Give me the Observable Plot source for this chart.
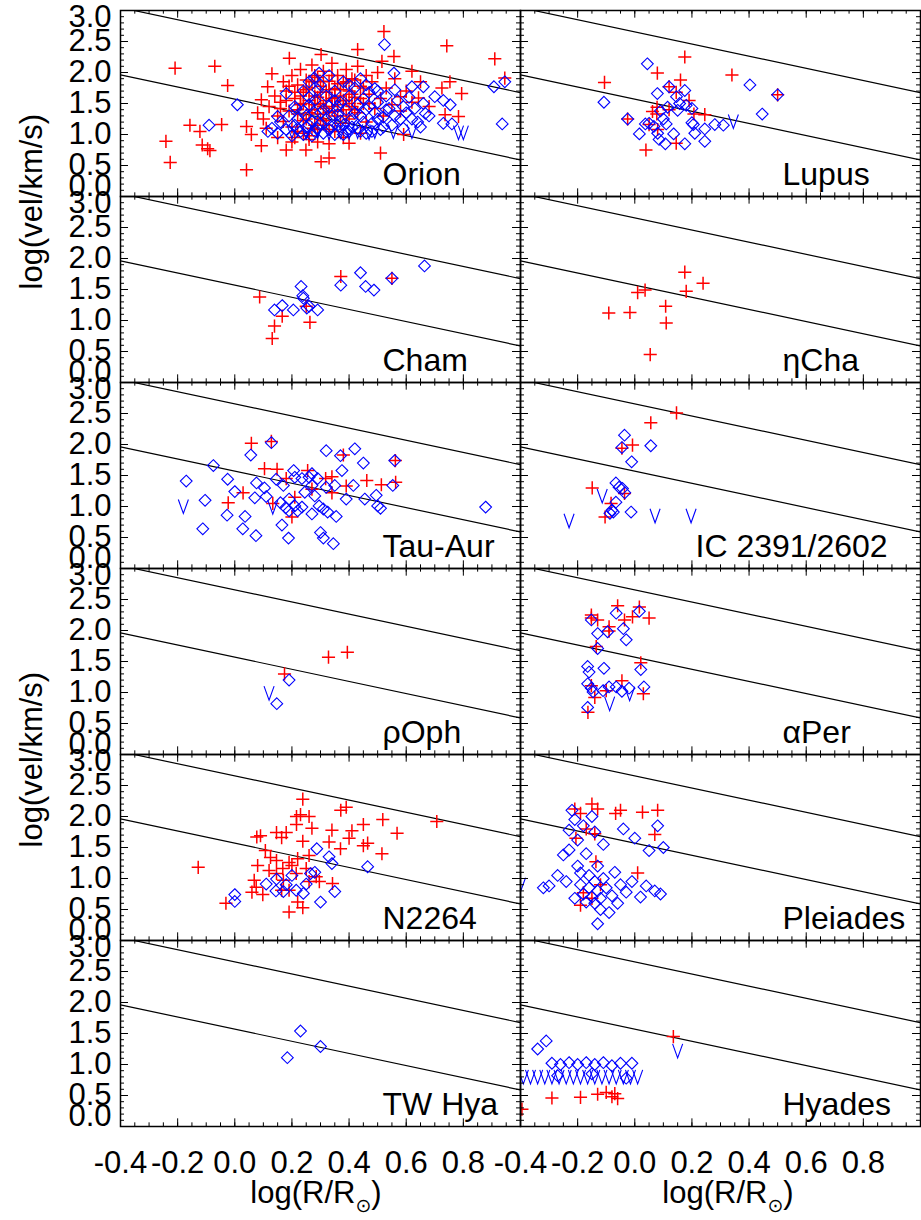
<!DOCTYPE html>
<html><head><meta charset="utf-8">
<script src="https://cdn.jsdelivr.net/npm/d3@7"></script>
<script src="https://cdn.jsdelivr.net/npm/@observablehq/plot@0.6"></script>
<style>
body{margin:0;background:#fff;}
#wrap{position:relative;width:921px;height:1220px;font-family:"Liberation Sans",Arial,Helvetica,sans-serif;overflow:hidden;}
.xt{position:absolute;top:1175px;font-size:31px;transform:translateX(-50%);white-space:nowrap;color:#000;}
.xt sub{font-family:"DejaVu Sans",sans-serif;font-size:19px;vertical-align:-9px;}
</style></head><body><div id="wrap"></div>
<script>
// ---- panel names (row by row: left, right) ----
const clusters = ["Orion","Lupus","Cham","ηCha","Tau-Aur","IC 2391/2602","ρOph","αPer","N2264","Pleiades","TW Hya","Hyades"];
const xTicks = [-0.4,-0.2,0.0,0.2,0.4,0.6,0.8];
const yTicks = [0.0,0.5,1.0,1.5,2.0,2.5,3.0];
// reference lines: [intercept, slope]
const refLines = [[2.655,-0.98],[1.57,-0.98]];

// ---- data: [log R, log v] ----
const orionPlus = [[-0.209,2.07],[-0.07,2.10],[-0.025,1.79],[-0.157,1.15],[-0.122,1.05],[-0.046,1.16],[-0.241,0.89],[-0.114,0.83],[-0.087,0.74],[-0.095,0.77],[-0.226,0.55],[0.041,0.43],[0.041,1.13],[0.058,1.0],[0.093,0.82],[0.115,1.77],[0.093,1.56],[0.191,2.23],[0.302,2.29],[0.302,0.56],[0.18,0.75],[0.249,0.75],
[0.12,1.45],[0.14,1.62],[0.15,1.30],[0.16,1.52],[0.17,1.21],[0.18,1.70],[0.19,1.38],[0.20,1.95],[0.20,1.12],[0.21,1.58],[0.22,1.80],[0.22,1.33],[0.23,2.05],[0.23,1.48],[0.24,1.68],[0.24,1.02],[0.25,1.88],[0.25,1.25],[0.26,1.55],[0.26,1.75],[0.27,2.12],[0.27,1.40],[0.28,1.62],[0.28,1.15],[0.29,1.92],[0.29,1.33],[0.30,1.78],[0.30,1.50],[0.31,2.02],[0.31,1.22],[0.32,1.68],[0.32,1.42],[0.33,1.86],[0.33,1.08],[0.34,1.58],[0.34,2.15],[0.35,1.30],[0.35,1.74],[0.36,1.95],[0.36,1.48],[0.37,1.62],[0.37,1.18],[0.38,1.83],[0.38,1.40],[0.39,2.05],[0.39,1.55],[0.40,1.70],[0.40,1.25],[0.41,1.90],[0.41,1.45],[0.42,1.60],[0.43,1.35],[0.43,2.10],[0.44,1.78],[0.45,1.50],[0.46,1.95],[0.46,1.20],[0.47,1.65],[0.48,1.85],[0.49,1.42],[0.50,2.00],[0.51,1.58],[0.52,1.30],[0.53,1.75],[0.55,1.48],[0.56,1.90],[0.58,1.38],[0.60,1.70],[0.62,1.52],[0.65,1.85],[0.68,1.45],[0.15,0.95],[0.20,0.88],[0.26,0.92],[0.33,0.85],[0.38,0.95],[0.44,1.02],[0.22,1.05],[0.29,1.08],[0.17,1.85],[0.13,1.98],[0.10,1.25],[0.08,1.35],[0.11,1.10],
[0.16,1.42],[0.18,1.55],[0.19,1.78],[0.21,1.68],[0.22,1.40],[0.23,1.62],[0.24,1.50],[0.25,1.72],[0.26,1.35],[0.27,1.85],[0.28,1.48],[0.28,1.95],[0.29,1.60],[0.30,1.25],[0.30,1.68],[0.31,1.85],[0.31,1.45],[0.32,1.55],[0.33,1.72],[0.33,1.35],[0.34,1.95],[0.34,1.45],[0.35,1.60],[0.36,1.82],[0.36,1.38],[0.37,1.72],[0.38,1.55],[0.39,1.30],[0.39,1.85],[0.40,1.50],[0.41,1.65],[0.42,1.40],[0.42,1.88],[0.44,1.58],[0.45,1.75],[0.47,1.50],[0.24,1.22],[0.27,1.10],[0.32,1.15],[0.35,1.05],[0.26,0.98],[0.21,0.95],[0.29,0.88],
[0.522,2.66],[0.742,2.43],[0.91,2.22],[0.945,1.91],[0.794,1.66],[0.753,1.85],[0.725,1.75],[0.736,1.32],[0.783,1.29],[0.62,2.02],[0.557,2.26],[0.515,2.18],[0.58,1.61],[0.643,1.59],[0.591,1.0],[0.51,0.70],[0.33,0.62],[0.40,0.86],[0.43,2.37]];
const orionDiamond = [[-0.09,1.15],[0.009,1.48],[0.18,1.66],[0.15,1.29],[0.215,1.42],[0.116,1.05],[0.278,1.91],[0.295,1.99],[0.26,1.60],[0.524,2.45],[0.557,1.99],[0.62,1.77],[0.66,1.77],[0.70,1.61],[0.73,1.55],[0.754,1.48],[0.73,1.18],[0.76,1.17],[0.907,1.77],[0.945,1.85],[0.936,1.17],[0.667,1.34],[0.59,1.45],[0.56,1.72],[0.49,1.74],
[0.13,1.10],[0.15,1.02],[0.16,1.20],[0.18,1.08],[0.19,1.30],[0.20,0.98],[0.21,1.15],[0.22,1.25],[0.23,1.05],[0.24,1.38],[0.25,1.12],[0.26,1.48],[0.27,0.98],[0.27,1.22],[0.28,1.55],[0.29,1.10],[0.30,1.35],[0.30,1.80],[0.31,1.02],[0.32,1.25],[0.32,1.62],[0.33,1.45],[0.34,1.12],[0.35,1.70],[0.35,1.00],[0.36,1.32],[0.37,1.52],[0.38,1.15],[0.38,1.85],[0.39,1.40],[0.40,1.05],[0.40,1.62],[0.41,1.25],[0.42,1.75],[0.43,1.10],[0.43,1.48],[0.44,1.30],[0.45,1.58],[0.46,1.02],[0.46,1.40],[0.47,1.68],[0.48,1.18],[0.49,1.35],[0.50,1.52],[0.51,1.08],[0.52,1.28],[0.53,1.62],[0.54,1.42],[0.55,1.15],[0.57,1.55],[0.58,1.25],[0.60,1.35],[0.61,1.60],[0.63,1.42],[0.64,1.20],[0.66,1.50],[0.68,1.30],[0.21,1.45],[0.24,1.70],[0.26,1.85],[0.29,1.72],[0.33,1.95],[0.36,1.15],[0.39,1.05],[0.44,1.90],
[0.22,1.10],[0.24,1.00],[0.26,1.15],[0.28,1.05],[0.30,1.18],[0.31,1.40],[0.33,1.08],[0.34,1.30],[0.35,1.55],[0.37,1.22],[0.38,1.00],[0.41,1.12],[0.42,1.35],[0.44,1.05],[0.45,1.20],[0.47,1.45],[0.48,1.05],[0.50,1.25],[0.52,1.12],[0.53,1.40],[0.56,1.30],[0.59,1.10],[0.62,1.25],[0.65,1.12],[0.25,1.30],[0.28,1.35],[0.36,1.45],[0.40,1.80],[0.46,1.80],[0.50,1.70]];
const orionLimit = [[0.20,1.05],[0.25,1.04],[0.29,1.05],[0.33,1.03],[0.37,1.05],[0.40,1.04],[0.43,1.05],[0.47,1.03],[0.49,1.05],[0.555,1.05],[0.62,1.05],[0.783,1.03],[0.80,1.03]];

const lupusPlus = [[-0.106,1.84],[0.079,1.99],[0.175,2.25],[0.16,1.88],[0.12,1.77],[0.145,1.68],[0.19,1.55],[0.34,1.96],[0.50,1.64],[-0.025,1.25],[0.062,1.37],[0.077,1.33],[0.12,1.40],[0.207,1.33],[0.245,1.32],[0.05,1.16],[0.08,1.08],[0.145,0.86],[0.039,0.75],[0.078,1.44]];
const lupusDiamond = [[0.044,2.14],[-0.108,1.52],[-0.025,1.25],[0.079,1.66],[0.12,1.77],[0.175,1.71],[0.146,1.61],[0.115,1.44],[0.157,1.50],[0.18,1.47],[0.20,1.42],[0.15,1.39],[0.09,1.38],[0.403,1.80],[0.50,1.64],[0.446,1.33],[0.037,1.17],[0.05,1.18],[0.067,1.13],[0.016,1.01],[0.08,1.02],[0.085,0.92],[0.107,0.85],[0.11,1.17],[0.136,1.01],[0.175,0.85],[0.20,1.19],[0.205,1.16],[0.21,1.02],[0.245,1.09],[0.245,0.89],[0.28,1.16],[0.31,1.15],[0.10,1.25]];
const lupusLimit = [[0.345,1.21]];

const chamPlus = [[0.087,1.38],[0.371,1.71],[0.55,1.68],[0.166,1.07],[0.139,0.91],[0.131,0.71],[0.263,0.97],[0.25,1.23]];
const chamDiamond = [[0.664,1.88],[0.44,1.77],[0.371,1.57],[0.458,1.55],[0.487,1.49],[0.55,1.68],[0.232,1.55],[0.238,1.40],[0.24,1.36],[0.139,1.17],[0.166,1.24],[0.205,1.17],[0.252,1.20],[0.26,1.23],[0.29,1.17]];
const chamLimit = [];

const etaChaPlus = [[-0.091,1.12],[-0.017,1.13],[0.01,1.45],[0.036,1.49],[0.108,1.23],[0.11,0.96],[0.175,1.78],[0.18,1.47],[0.239,1.60],[0.054,0.45]];
const etaChaDiamond = [];
const etaChaLimit = [];

const tauPlus = [[0.058,2.02],[0.128,2.05],[0.38,1.83],[0.562,1.74],[0.104,1.61],[0.148,1.60],[0.255,1.58],[0.318,1.45],[0.34,1.48],[0.462,1.42],[0.513,1.35],[0.563,1.39],[0.029,1.22],[-0.023,1.06],[0.20,0.83],[0.133,1.05],[0.21,1.15],[0.27,1.28],[0.34,1.22],[0.39,1.33],[0.18,1.45]];
const tauDiamond = [[-0.17,1.41],[-0.075,1.66],[-0.104,1.10],[-0.112,0.64],[-0.025,1.44],[0.0,1.24],[-0.027,0.86],[0.028,0.64],[0.036,0.84],[0.074,0.53],[0.056,1.83],[0.128,2.03],[0.07,1.14],[0.076,1.38],[0.104,1.30],[0.11,1.16],[0.145,1.44],[0.165,0.70],[0.188,0.49],[0.16,1.06],[0.178,0.98],[0.206,1.58],[0.21,1.47],[0.19,1.12],[0.21,1.01],[0.235,0.99],[0.235,1.45],[0.26,1.47],[0.27,1.34],[0.28,1.17],[0.295,1.01],[0.27,0.88],[0.31,0.96],[0.32,1.90],[0.325,0.91],[0.30,0.58],[0.31,0.49],[0.345,0.40],[0.355,0.84],[0.35,1.34],[0.37,1.82],[0.375,1.58],[0.39,1.12],[0.415,1.34],[0.42,1.93],[0.45,1.70],[0.455,1.12],[0.495,1.18],[0.50,1.01],[0.51,0.97],[0.553,1.34],[0.56,1.74],[0.878,0.99],[0.17,1.34],[0.245,1.23],[0.19,0.93],[0.22,0.93],[0.27,1.53],[0.29,1.45],[0.32,1.31]];
const tauLimit = [[-0.18,1.0],[0.133,0.99]];

const icPlus = [[0.146,2.51],[0.056,2.35],[-0.008,1.99],[-0.045,1.94],[-0.149,1.30],[-0.036,1.21],[-0.083,1.05],[-0.104,0.83]];
const icDiamond = [[-0.036,2.15],[-0.045,1.95],[0.056,1.98],[-0.011,1.72],[-0.066,1.38],[-0.055,1.31],[-0.043,1.29],[-0.035,1.22],[-0.066,1.07],[-0.08,0.94],[-0.087,0.89],[-0.075,0.91],[-0.013,0.91]];
const icLimit = [[-0.23,0.77],[-0.114,1.17],[0.071,0.85],[0.197,0.85]];

const ophPlus = [[0.328,1.57],[0.394,1.65],[0.174,1.30]];
const ophDiamond = [[0.19,1.20],[0.147,0.82]];
const ophLimit = [[0.12,0.99]];

const perPlus = [[0.016,2.38],[-0.06,2.40],[-0.152,2.25],[-0.13,2.17],[-0.008,2.22],[0.05,2.20],[-0.036,2.17],[-0.09,2.06],[-0.09,1.99],[-0.135,1.74],[0.021,1.48],[-0.045,1.19],[-0.152,1.11],[-0.10,1.03],[0.03,0.98],[-0.14,0.92],[-0.164,0.68],[-0.152,2.20]];
const perDiamond = [[-0.152,2.17],[-0.065,2.28],[0.016,2.31],[-0.04,2.03],[-0.03,1.85],[-0.13,1.95],[-0.095,1.98],[-0.13,1.71],[-0.165,1.42],[-0.108,1.39],[-0.16,1.33],[0.021,1.37],[-0.165,1.14],[-0.152,1.07],[-0.146,1.01],[-0.111,1.03],[-0.09,1.09],[-0.065,1.09],[-0.045,1.02],[-0.02,1.07],[0.032,1.09],[-0.165,0.76]];
const perLimit = [[-0.088,0.82],[-0.018,0.98]];

const n2264Plus = [[0.238,2.28],[0.371,2.10],[0.39,2.15],[0.707,1.92],[0.518,1.95],[0.568,1.73],[0.45,1.87],[0.34,1.78],[0.41,1.77],[0.40,1.65],[0.465,1.57],[0.45,1.53],[0.515,1.40],[0.37,1.48],[0.33,1.59],[0.216,2.0],[0.23,2.03],[0.26,2.0],[0.27,1.81],[0.216,1.87],[0.18,1.74],[0.146,1.74],[0.164,1.66],[0.09,1.69],[0.077,1.67],[0.238,1.60],[0.107,1.45],[0.125,1.34],[0.146,1.29],[0.19,1.26],[0.22,1.32],[0.26,1.37],[0.08,1.21],[0.12,1.13],[0.168,1.16],[0.215,1.08],[0.25,1.16],[0.296,0.95],[0.285,1.03],[0.068,0.97],[0.075,0.86],[0.098,0.74],[0.06,0.78],[-0.128,1.18],[-0.031,0.60],[0.164,0.81],[0.19,0.81],[0.22,0.62],[0.19,0.46],[0.238,0.53],[0.342,0.92],[0.146,1.08],[0.20,1.21],[0.17,0.97],[0.26,0.95]];
const n2264Diamond = [[0.287,1.48],[0.33,1.35],[0.34,1.24],[0.465,1.19],[0.11,0.91],[0.146,0.99],[0.20,1.05],[0.265,1.08],[0.28,1.10],[0.144,0.80],[0.17,0.79],[0.215,0.81],[0.24,0.76],[0.25,0.91],[0.35,0.79],[0.30,0.62],[0.0,0.74],[0.0,0.63],[0.18,0.90]];
const n2264Limit = [];

const pleiadesPlus = [[-0.21,2.12],[-0.19,2.05],[-0.15,2.20],[-0.13,2.12],[-0.206,1.65],[-0.14,1.72],[-0.17,1.80],[-0.136,1.27],[-0.067,2.05],[0.027,2.07],[0.07,1.71],[0.01,1.09],[-0.19,0.57],[-0.18,0.77],[-0.15,0.68],[-0.12,0.90],[-0.05,2.10],[0.08,2.10]];
const pleiadesDiamond = [[-0.32,0.85],[-0.30,0.88],[-0.27,1.05],[-0.25,1.38],[-0.23,1.46],[-0.23,1.78],[-0.22,2.10],[-0.21,1.95],[-0.20,1.62],[-0.20,1.20],[-0.19,1.09],[-0.19,0.90],[-0.18,0.75],[-0.18,1.85],[-0.17,1.40],[-0.17,0.62],[-0.16,1.05],[-0.16,0.85],[-0.15,0.70],[-0.15,2.00],[-0.14,0.60],[-0.14,0.95],[-0.14,1.75],[-0.13,0.27],[-0.13,0.80],[-0.13,1.20],[-0.12,0.50],[-0.12,0.68],[-0.11,1.00],[-0.11,1.55],[-0.10,0.85],[-0.09,0.45],[-0.08,0.72],[-0.07,1.10],[-0.06,0.60],[-0.05,0.90],[-0.04,1.80],[-0.03,0.78],[-0.01,0.95],[0.0,1.65],[0.02,0.70],[0.04,0.88],[0.05,1.45],[0.07,0.80],[0.08,1.85],[0.09,0.75],[0.10,1.50],[-0.24,0.95],[-0.21,0.68]];
const pleiadesLimit = [[-0.40,0.90]];

const twHyaPlus = [];
const twHyaDiamond = [[0.23,1.54],[0.184,1.11],[0.30,1.29]];
const twHyaLimit = [];

const hyadesPlus = [[-0.395,0.28],[-0.29,0.46],[-0.19,0.47],[-0.13,0.52],[-0.10,0.55],[-0.08,0.48],[-0.07,0.53],[-0.06,0.45],[0.135,1.45]];
const hyadesDiamond = [[-0.34,1.25],[-0.31,1.38],[-0.29,1.02],[-0.26,1.00],[-0.23,1.03],[-0.20,1.00],[-0.17,1.03],[-0.14,1.00],[-0.11,1.03],[-0.08,0.98],[-0.05,1.02],[-0.03,0.78],[-0.01,1.02],[-0.27,0.82],[-0.15,0.85]];
const hyadesLimit = [[-0.39,0.80],[-0.365,0.80],[-0.34,0.80],[-0.315,0.80],[-0.29,0.80],[-0.265,0.80],[-0.24,0.80],[-0.215,0.80],[-0.19,0.80],[-0.165,0.80],[-0.14,0.80],[-0.115,0.80],[-0.09,0.80],[-0.065,0.80],[-0.04,0.80],[-0.015,0.80],[0.01,0.80],[0.15,1.22]];

// ---- assemble ----
const sets = [
  [orionPlus,orionDiamond,orionLimit],[lupusPlus,lupusDiamond,lupusLimit],
  [chamPlus,chamDiamond,chamLimit],[etaChaPlus,etaChaDiamond,etaChaLimit],
  [tauPlus,tauDiamond,tauLimit],[icPlus,icDiamond,icLimit],
  [ophPlus,ophDiamond,ophLimit],[perPlus,perDiamond,perLimit],
  [n2264Plus,n2264Diamond,n2264Limit],[pleiadesPlus,pleiadesDiamond,pleiadesLimit],
  [twHyaPlus,twHyaDiamond,twHyaLimit],[hyadesPlus,hyadesDiamond,hyadesLimit]
];
const rowsOf = k => sets.flatMap((s,i) => s[k].map(([x,y]) => ({x, y, fx: i%2, fy: Math.floor(i/2)})));
const plusRows = rowsOf(0), diaRows = rowsOf(1), limRows = rowsOf(2);

const W = 921, H = 1220, MT = 9, MB = 93, ML = 120, MR = 1;
const cellW = (W - ML - MR) / 2, cellH = (H - MT - MB) / 6;
const xDom = [-0.4, 1.0];
const linePts = refLines.flatMap(([a,b],k) => xDom.map(x => ({k, x, y: a + b*x})));
const xMinor = d3.range(-8, 21).map(i => i*0.05);
const yMinor = d3.range(0, 31).map(i => i*0.1);
const labRows = clusters.map((name,i) => ({name, fx: i%2, fy: Math.floor(i/2)}));
const yLab = d3.range(6).flatMap(fy => yTicks.map(v => ({v, fx:0, fy})));
const xLab = [0,1].flatMap(fx => xTicks.map(v => ({v, fx, fy:5})));
const yTitle = [{fx:0, fy:1, t:"log(vel/km/s)"},{fx:0, fy:4, t:"log(vel/km/s)"}];
const fmt = v => v.toFixed(1);

const symV = {draw(ctx, size){ const r = Math.sqrt(size/Math.PI); ctx.moveTo(-0.72*r,-r); ctx.lineTo(0,r); ctx.lineTo(0.72*r,-r); }};
const F = "'Liberation Sans',Arial,Helvetica,sans-serif";

const chart = Plot.plot({
  width: W, height: H, marginTop: MT, marginBottom: MB, marginLeft: ML, marginRight: MR,
  style: {fontFamily: F, background: "white", overflow: "visible"},
  x: {domain: xDom, axis: null},
  y: {domain: [0, 3.0], axis: null},
  fx: {domain: [0,1], padding: 0, axis: null},
  fy: {domain: [0,1,2,3,4,5], padding: 0, axis: null},
  marks: [
    Plot.line(linePts, {x:"x", y:"y", z:"k", stroke:"black", strokeWidth:1.2, clip:true}),
    Plot.dot(plusRows, {x:"x", y:"y", fx:"fx", fy:"fy", symbol:"plus", r:4.3, stroke:"#ff0000", strokeWidth:1.5, clip:true}),
    Plot.dot(diaRows, {x:"x", y:"y", fx:"fx", fy:"fy", symbol:"diamond2", r:5.3, stroke:"#0000ff", fill:"none", strokeWidth:1.1, clip:true}),
    Plot.dot(limRows, {x:"x", y:"y", fx:"fx", fy:"fy", symbol:symV, r:7, stroke:"#0000ff", fill:"none", strokeWidth:1.1, clip:true}),
    // inward ticks
    Plot.tickX(xTicks.concat([1.0]), {x:d=>d, insetTop: cellH-8, stroke:"black"}),
    Plot.tickX(xTicks.concat([1.0]), {x:d=>d, insetBottom: cellH-8, stroke:"black"}),
    Plot.tickX(xMinor, {x:d=>d, insetTop: cellH-4, stroke:"black"}),
    Plot.tickX(xMinor, {x:d=>d, insetBottom: cellH-4, stroke:"black"}),
    Plot.tickY(yTicks, {y:d=>d, insetRight: cellW-8, stroke:"black"}),
    Plot.tickY(yTicks, {y:d=>d, insetLeft: cellW-8, stroke:"black"}),
    Plot.tickY(yMinor, {y:d=>d, insetRight: cellW-4, stroke:"black"}),
    Plot.tickY(yMinor, {y:d=>d, insetLeft: cellW-4, stroke:"black"}),
    Plot.frame({stroke:"black", strokeWidth:1.5}),
    // tick labels
    Plot.text(yLab.filter(d => d.v > 0 && d.v < 3), {y:"v", fx:"fx", fy:"fy", text:d=>fmt(d.v), frameAnchor:"left", textAnchor:"end", dx:-9, lineAnchor:"middle", fontSize:31, fill:"black"}),
    Plot.text(yLab.filter(d => d.v >= 3), {y:"v", fx:"fx", fy:"fy", text:d=>fmt(d.v), frameAnchor:"left", textAnchor:"end", dx:-9, dy:7, lineAnchor:"middle", fontSize:31, fill:"black"}),
    Plot.text(yLab.filter(d => d.v <= 0), {y:"v", fx:"fx", fy:"fy", text:d=>fmt(d.v), frameAnchor:"left", textAnchor:"end", dx:-9, dy:-10, lineAnchor:"middle", fontSize:31, fill:"black"}),
    Plot.text(xLab, {x:"v", fx:"fx", fy:"fy", text:d=>fmt(d.v), frameAnchor:"bottom", dy:37, lineAnchor:"middle", fontSize:31, fill:"black"}),
    Plot.text(yTitle, {fx:"fx", fy:"fy", text:"t", frameAnchor:"left", dx:-88, rotate:-90, lineAnchor:"middle", fontSize:31, fill:"black"}),
    // panel names
    Plot.text(labRows.filter(d => d.name !== "IC 2391/2602"), {fx:"fx", fy:"fy", text:"name", frameAnchor:"bottom-left", dx:262, dy:-12, textAnchor:"start", lineAnchor:"bottom", fontSize:32, fill:"black"}),
    Plot.text(labRows.filter(d => d.name === "IC 2391/2602"), {fx:"fx", fy:"fy", text:"name", frameAnchor:"bottom-left", dx:175, dy:-12, textAnchor:"start", lineAnchor:"bottom", fontSize:32, fill:"black"})
  ]
});
const wrap = document.getElementById("wrap");
wrap.appendChild(chart);
for (const cx of [316, 728]) {
  const d = document.createElement("div");
  d.className = "xt"; d.style.left = cx + "px";
  d.innerHTML = "log(R/R<sub>⊙</sub>)";
  wrap.appendChild(d);
}
</script></body></html>
